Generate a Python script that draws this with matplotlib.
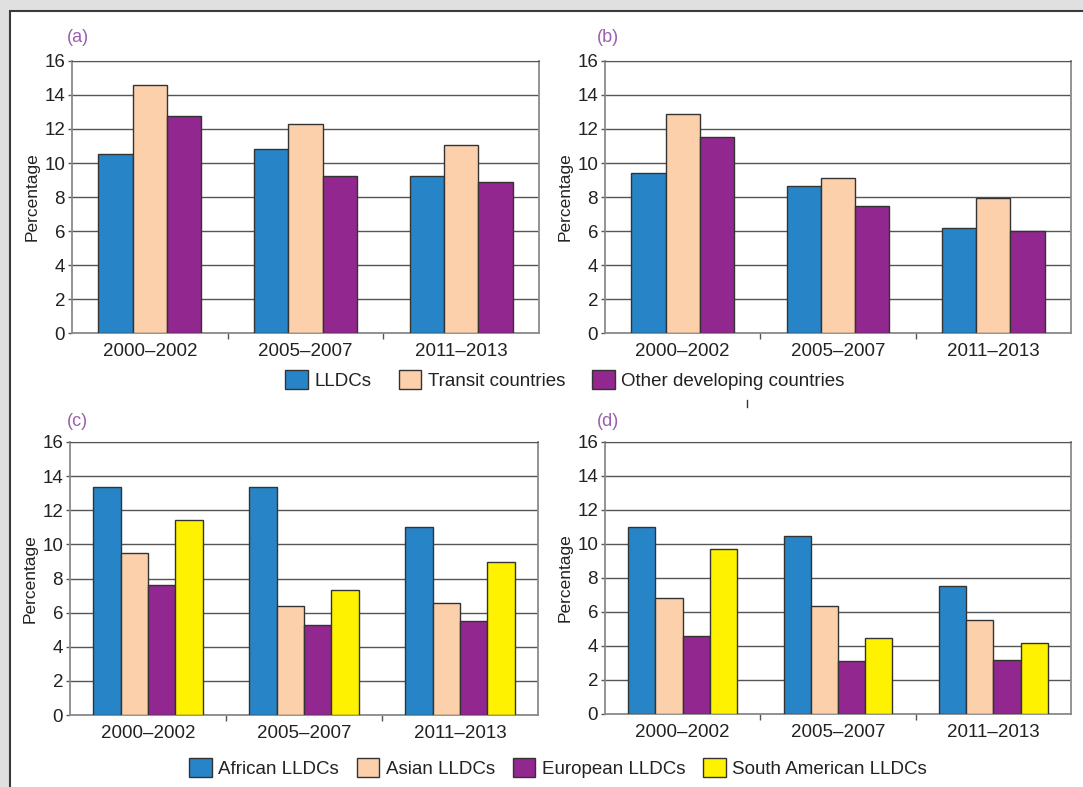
import matplotlib

matplotlib.use("Agg")
import matplotlib.pyplot as plt
import numpy as np
from matplotlib.patches import Patch, Rectangle

plt.rcParams["font.family"] = ["Liberation Sans", "DejaVu Sans"]

PERIODS = ["2000\u20132002", "2005\u20132007", "2011\u20132013"]

# panels (a) and (b): LLDCs vs transit vs other developing countries
GROUP_SERIES = ["LLDCs", "Transit countries", "Other developing countries"]
A_LLDC = [10.5, 10.85, 9.25]
A_TRANSIT = [14.6, 12.3, 11.05]
A_OTHER = [12.75, 9.25, 8.9]
B_LLDC = [9.4, 8.65, 6.2]
B_TRANSIT = [12.9, 9.1, 7.95]
B_OTHER = [11.5, 7.45, 6.0]

# panels (c) and (d): LLDCs by region
REGION_SERIES = ["African LLDCs", "Asian LLDCs", "European LLDCs", "South American LLDCs"]
C_AFRICA = [13.35, 13.35, 11.0]
C_ASIA = [9.5, 6.4, 6.55]
C_EUROPE = [7.6, 5.25, 5.5]
C_SAMERICA = [11.45, 7.35, 8.95]
D_AFRICA = [11.0, 10.5, 7.55]
D_ASIA = [6.8, 6.35, 5.55]
D_EUROPE = [4.6, 3.1, 3.2]
D_SAMERICA = [9.7, 4.45, 4.15]

BLUE = "#2785c7"
PEACH = "#fdd0ac"
PURPLE = "#92278f"
YELLOW = "#fff200"
EDGE = "#333333"
GRID = "#555555"
SPINE = "#8a8a8a"
TAG = "#9a5fb0"
TEXT = "#222222"
FS = 13.5

W, H = 1083, 787


def px_axes(fig, left, top, right, bottom):
    return fig.add_axes([left / W, 1 - bottom / H, (right - left) / W, (bottom - top) / H])


def bar_panel(ax, series, colors, bar_w):
    x = np.arange(len(PERIODS))
    n = len(series)
    for i, (vals, col) in enumerate(zip(series, colors)):
        off = (i - (n - 1) / 2) * bar_w
        ax.bar(x + off, vals, width=bar_w, color=col, edgecolor=EDGE,
               linewidth=1.0, zorder=3)
    ax.set_xlim(-0.5, len(PERIODS) - 0.5)
    ax.set_ylim(0, 16)
    ax.set_yticks(np.arange(0, 17, 2))
    ax.yaxis.grid(True, color=GRID, linewidth=1.0, zorder=0)
    ax.set_axisbelow(True)
    ax.set_xticks(x)
    ax.set_xticklabels(PERIODS)
    ax.set_xticks([0.5, 1.5], minor=True)
    ax.tick_params(axis="x", which="major", length=0, pad=7, labelsize=FS, colors=TEXT)
    ax.tick_params(axis="x", which="minor", length=4, width=1, color=GRID)
    ax.tick_params(axis="y", length=3, width=1, color=GRID, pad=2, labelsize=FS,
                   labelcolor=TEXT)
    for side in ["left", "right", "bottom"]:
        ax.spines[side].set_color(SPINE)
        ax.spines[side].set_linewidth(1.3)
    ax.spines["top"].set_color(GRID)
    ax.set_ylabel("Percentage", fontsize=12.5, color=TEXT, labelpad=3)


def legend(fig, labels, colors, cx, cy, spacing):
    handles = [Patch(facecolor=c, edgecolor=EDGE, linewidth=1.0) for c in colors]
    fig.legend(handles, labels, loc="center", bbox_to_anchor=(cx / W, 1 - cy / H),
               ncol=len(labels), frameon=False, fontsize=FS, handlelength=1.2,
               handleheight=1.2, handletextpad=0.35, columnspacing=spacing,
               labelcolor=TEXT)


fig = plt.figure(figsize=(W / 100, H / 100), dpi=100, facecolor="#e0e0e0")
fig.patches.append(Rectangle((10 / W, -0.05), 1.1, 1 - 11 / H + 0.05,
                             transform=fig.transFigure, facecolor="white",
                             edgecolor="#3a3a3a", linewidth=1.5, zorder=-1))

ax_a = px_axes(fig, 72, 61, 539, 333)
ax_b = px_axes(fig, 605, 61, 1071, 333)
ax_c = px_axes(fig, 70, 442, 538, 715)
ax_d = px_axes(fig, 605, 442, 1071, 714)

bar_panel(ax_a, [A_LLDC, A_TRANSIT, A_OTHER], [BLUE, PEACH, PURPLE], 0.22)
bar_panel(ax_b, [B_LLDC, B_TRANSIT, B_OTHER], [BLUE, PEACH, PURPLE], 0.22)
bar_panel(ax_c, [C_AFRICA, C_ASIA, C_EUROPE, C_SAMERICA], [BLUE, PEACH, PURPLE, YELLOW], 0.175)
bar_panel(ax_d, [D_AFRICA, D_ASIA, D_EUROPE, D_SAMERICA], [BLUE, PEACH, PURPLE, YELLOW], 0.175)

for tag, (x, y) in zip(["(a)", "(b)", "(c)", "(d)"],
                       [(67, 38), (597, 38), (67, 422), (597, 422)]):
    fig.text(x / W, 1 - y / H, tag, fontsize=13, color=TAG, ha="left", va="center")

legend(fig, GROUP_SERIES, [BLUE, PEACH, PURPLE], 565, 380, 1.45)
legend(fig, REGION_SERIES, [BLUE, PEACH, PURPLE, YELLOW], 558, 768, 0.95)

# stray tick mark between the two rows
fig.add_artist(plt.Line2D([747 / W, 747 / W], [1 - 400 / H, 1 - 407 / H],
                          color="#333333", linewidth=1.0))

fig.savefig("out.png", dpi=100, facecolor=fig.get_facecolor())
